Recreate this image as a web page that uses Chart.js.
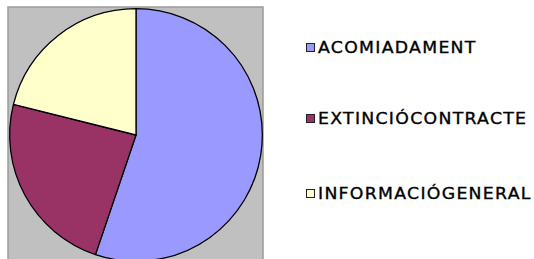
<!DOCTYPE html>
<html>
<head>
<meta charset="utf-8">
<script src="https://cdn.jsdelivr.net/npm/chart.js@4.4.1/dist/chart.umd.min.js"></script>
<style>
    html, body { margin: 0; padding: 0; background: #fff; }
    body { width: 534px; height: 259px; overflow: hidden; position: relative; }
    #pieBox { position: absolute; left: 0; top: 0; width: 272px; height: 272px; }
    #legend { position: absolute; left: 306px; top: 0; font-family: "DejaVu Sans", sans-serif; font-size: 16px; letter-spacing: 1.2px; color: #000; -webkit-text-stroke: 0.35px #000; }
    .item { position: absolute; left: 0; white-space: nowrap; display: flex; align-items: center; height: 20px; }
    .swatch { width: 7px; height: 7px; border: 1px solid #222; margin-right: 3px; flex: none; }
    .label { display: inline-block; transform: scaleX(1.08); transform-origin: left center; }
</style>
</head>
<body>
<div id="pieBox"><canvas id="pieChart"></canvas></div>
<div id="legend"></div>
<script>
// chart data
const categories = ['ACOMIADAMENT', 'EXTINCIÓCONTRACTE', 'INFORMACIÓGENERAL'];
const shares = [55.2, 23.7, 21.1];
const sliceColors = ['#9999FF', '#993366', '#FFFFCC'];

// grey plot area behind the pie
const plotBackground = {
    id: 'plotBackground',
    beforeDraw(chart) {
        const ctx = chart.ctx;
        const a = chart.chartArea;
        ctx.save();
        ctx.fillStyle = '#C0C0C0';
        ctx.fillRect(a.left - 1, a.top - 1, a.width + 1, a.height + 10);
        ctx.strokeStyle = '#9a9a9a';
        ctx.lineWidth = 1.5;
        ctx.strokeRect(a.left - 1, a.top - 1, a.width + 1, a.height + 10);
        ctx.restore();
    }
};

const chart = new Chart(document.getElementById('pieChart'), {
    type: 'pie',
    data: {
        labels: categories,
        datasets: [{
            data: shares,
            backgroundColor: sliceColors,
            borderColor: '#000',
            borderWidth: 1.3
        }]
    },
    options: {
        responsive: true,
        maintainAspectRatio: false,
        animation: false,
        layout: { padding: { left: 9, top: 8, right: 9, bottom: 10 } },
        plugins: {
            legend: { display: false },
            tooltip: { enabled: false }
        }
    },
    plugins: [plotBackground]
});

// legend built from the chart's own labels
const legendRows = [37, 108, 183];
const legendEl = document.getElementById('legend');
chart.options.plugins.legend.labels.generateLabels(chart).forEach(function(item, i) {
    const row = document.createElement('div');
    row.className = 'item';
    row.style.top = legendRows[i] + 'px';
    const sw = document.createElement('span');
    sw.className = 'swatch';
    sw.style.background = item.fillStyle;
    const txt = document.createElement('span');
    txt.className = 'label';
    txt.textContent = item.text;
    row.appendChild(sw);
    row.appendChild(txt);
    legendEl.appendChild(row);
});
</script>
</body>
</html>
